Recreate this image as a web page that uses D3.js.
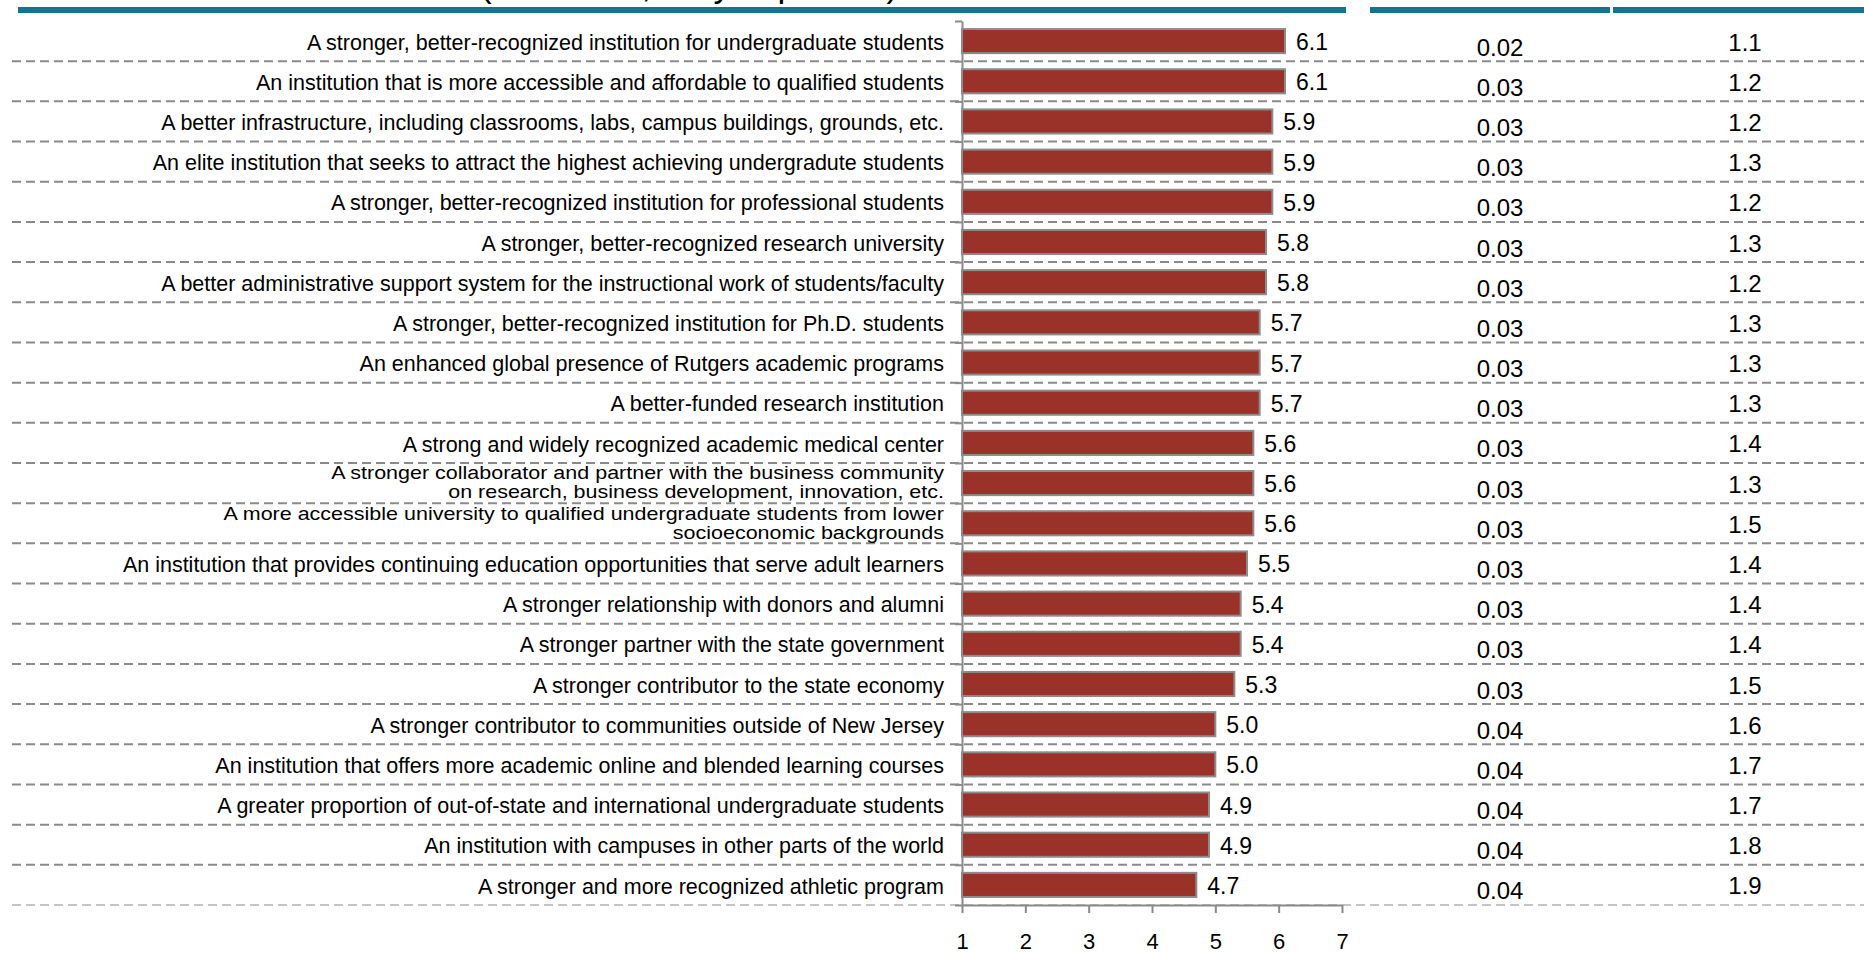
<!DOCTYPE html>
<html>
<head>
<meta charset="utf-8">
<script src="https://cdn.jsdelivr.net/npm/d3@7"></script>
<style>
  html, body { margin: 0; padding: 0; background: #fff; }
  svg { display: block; font-family: "Liberation Sans", Arial, sans-serif; }
</style>
</head>
<body>
<svg id="chart" width="1864" height="954"></svg>
<script>
// ---- data ----
const categories = [
  "A stronger, better-recognized institution for undergraduate students",
  "An institution that is more accessible and affordable to qualified students",
  "A better infrastructure, including classrooms, labs, campus buildings, grounds, etc.",
  "An elite institution that seeks to attract the highest achieving undergradute students",
  "A stronger, better-recognized institution for professional students",
  "A stronger, better-recognized research university",
  "A better administrative support system for the instructional work of students/faculty",
  "A stronger, better-recognized institution for Ph.D. students",
  "An enhanced global presence of Rutgers academic programs",
  "A better-funded research institution",
  "A strong and widely recognized academic medical center",
  "A stronger collaborator and partner with the business community\non research, business development, innovation, etc.",
  "A more accessible university to qualified undergraduate students from lower\nsocioeconomic backgrounds",
  "An institution that provides continuing education opportunities that serve adult learners",
  "A stronger relationship with donors and alumni",
  "A stronger partner with the state government",
  "A stronger contributor to the state economy",
  "A stronger contributor to communities outside of New Jersey",
  "An institution that offers more academic online and blended learning courses",
  "A greater proportion of out-of-state and international undergraduate students",
  "An institution with campuses in other parts of the world",
  "A stronger and more recognized athletic program"
];

const meanScores = [6.1, 6.1, 5.9, 5.9, 5.9, 5.8, 5.8, 5.7, 5.7, 5.7, 5.6,
                    5.6, 5.6, 5.5, 5.4, 5.4, 5.3, 5.0, 5.0, 4.9, 4.9, 4.7];

const standardErrors = [0.02, 0.03, 0.03, 0.03, 0.03, 0.03, 0.03, 0.03, 0.03, 0.03, 0.03,
                        0.03, 0.03, 0.03, 0.03, 0.03, 0.03, 0.04, 0.04, 0.04, 0.04, 0.04];

const standardDeviations = [1.1, 1.2, 1.2, 1.3, 1.2, 1.3, 1.2, 1.3, 1.3, 1.3, 1.4,
                            1.3, 1.5, 1.4, 1.4, 1.4, 1.5, 1.6, 1.7, 1.7, 1.8, 1.9];

const scaleTicks = [1, 2, 3, 4, 5, 6, 7];

const subtitle = "(1\u20137 scale, Very important)";

// ---- layout ----
const W = 1864, H = 954;
const plotTop = 21, plotBottom = 905;
const axisLeftX = 962, axisRightX = 1342;
const labelRightX = 944;
const seCenterX = 1500, sdCenterX = 1745;
const ruleLeftX = 12;
const headerBands = [[18, 1346], [1370, 1610], [1613, W]];

const COLORS = {
  header: "#16738e",
  bar: "#9a3229",
  barStroke: "#8c8c8c",
  axis: "#8a8a8a",
  rule: "#8a8a8a",
  ruleLight: "#c4c4c4",
  text: "#000"
};

const n = categories.length;
const svg = d3.select("#chart");

svg.append("rect").attr("width", W).attr("height", H).attr("fill", "#fff");

const x = d3.scaleLinear().domain([1, 7]).range([axisLeftX, axisRightX]);
const rows = d3.scaleBand().domain(d3.range(n)).range([plotTop, plotBottom]);
const barBand = d3.scaleBand().domain(d3.range(n)).range([plotTop, plotBottom])
  .paddingInner(0.4).paddingOuter(0.2);
const boundary = d3.scaleLinear().domain([0, n]).range([plotTop, plotBottom]);
const rowCenter = i => rows(i) + rows.bandwidth() / 2;

// subtitle sitting above the header rule (only its lower edge falls on the page)
svg.append("text")
  .attr("x", 480).attr("y", -3)
  .attr("font-size", 35).attr("fill", COLORS.text)
  .text(subtitle);

// header rules
svg.append("g").selectAll("rect")
  .data(headerBands)
  .join("rect")
  .attr("x", d => d[0]).attr("y", 7)
  .attr("width", d => d[1] - d[0]).attr("height", 6)
  .attr("fill", COLORS.header);

// dashed row separators
svg.append("g").selectAll("line")
  .data(d3.range(1, n + 1))
  .join("line")
  .attr("x1", ruleLeftX).attr("x2", W)
  .attr("y1", k => boundary(k)).attr("y2", k => boundary(k))
  .attr("stroke", k => k === n ? COLORS.ruleLight : COLORS.rule)
  .attr("stroke-width", 2)
  .attr("stroke-dasharray", "9,5");

// category axis with ticks between rows
const yAxis = svg.append("g")
  .attr("transform", `translate(${axisLeftX},0)`)
  .call(d3.axisLeft(boundary).tickValues(d3.range(n + 1)).tickSize(7).tickSizeOuter(0).tickFormat(""));
yAxis.select(".domain").attr("stroke", COLORS.axis).attr("stroke-width", 2);
yAxis.selectAll(".tick line").attr("stroke", COLORS.axis).attr("stroke-width", 2);

// value axis
const xAxis = svg.append("g")
  .attr("transform", `translate(0,${plotBottom})`)
  .call(d3.axisBottom(x).tickValues(scaleTicks).tickFormat(d3.format("d"))
    .tickSize(8).tickSizeOuter(0).tickPadding(20));
xAxis.select(".domain").attr("stroke", COLORS.axis).attr("stroke-width", 2);
xAxis.selectAll(".tick line").attr("stroke", COLORS.axis).attr("stroke-width", 2);
xAxis.selectAll(".tick text")
  .attr("font-family", "'Liberation Sans', Arial, sans-serif")
  .attr("font-size", 22).attr("fill", COLORS.text);

// bars
svg.append("g").selectAll("rect")
  .data(meanScores)
  .join("rect")
  .attr("x", x(1))
  .attr("y", (d, i) => barBand(i))
  .attr("width", d => x(d) - x(1))
  .attr("height", barBand.bandwidth())
  .attr("fill", COLORS.bar)
  .attr("stroke", COLORS.barStroke)
  .attr("stroke-width", 2);

// bar value labels
svg.append("g").selectAll("text")
  .data(meanScores)
  .join("text")
  .attr("x", d => x(d) + 11)
  .attr("y", (d, i) => rowCenter(i) + 9)
  .attr("font-size", 23).attr("fill", COLORS.text)
  .text(d => d3.format(".1f")(d));

// category labels (two-line labels are squeezed to fit the row)
svg.append("g").selectAll("text")
  .data(categories)
  .join("text")
  .attr("text-anchor", "end")
  .attr("font-size", 21.5)
  .attr("fill", COLORS.text)
  .each(function (d, i) {
    const t = d3.select(this);
    const lines = d.split("\n");
    const cy = rowCenter(i);
    if (lines.length === 1) {
      t.attr("x", labelRightX).attr("y", cy + 8.6).text(d);
    } else {
      t.attr("transform", `translate(0,${cy}) scale(1,0.83) translate(0,${-cy})`);
      t.append("tspan").attr("x", labelRightX).attr("y", cy - 4.5).text(lines[0]);
      t.append("tspan").attr("x", labelRightX).attr("y", cy + 18.5).text(lines[1]);
    }
  });

// standard error column
svg.append("g").selectAll("text")
  .data(standardErrors)
  .join("text")
  .attr("x", seCenterX)
  .attr("y", (d, i) => rowCenter(i) + 14.5)
  .attr("text-anchor", "middle")
  .attr("font-size", 24).attr("fill", COLORS.text)
  .text(d => d3.format(".2f")(d));

// standard deviation column
svg.append("g").selectAll("text")
  .data(standardDeviations)
  .join("text")
  .attr("x", sdCenterX)
  .attr("y", (d, i) => rowCenter(i) + 9.5)
  .attr("text-anchor", "middle")
  .attr("font-size", 24).attr("fill", COLORS.text)
  .text(d => d3.format(".1f")(d));
</script>
</body>
</html>
